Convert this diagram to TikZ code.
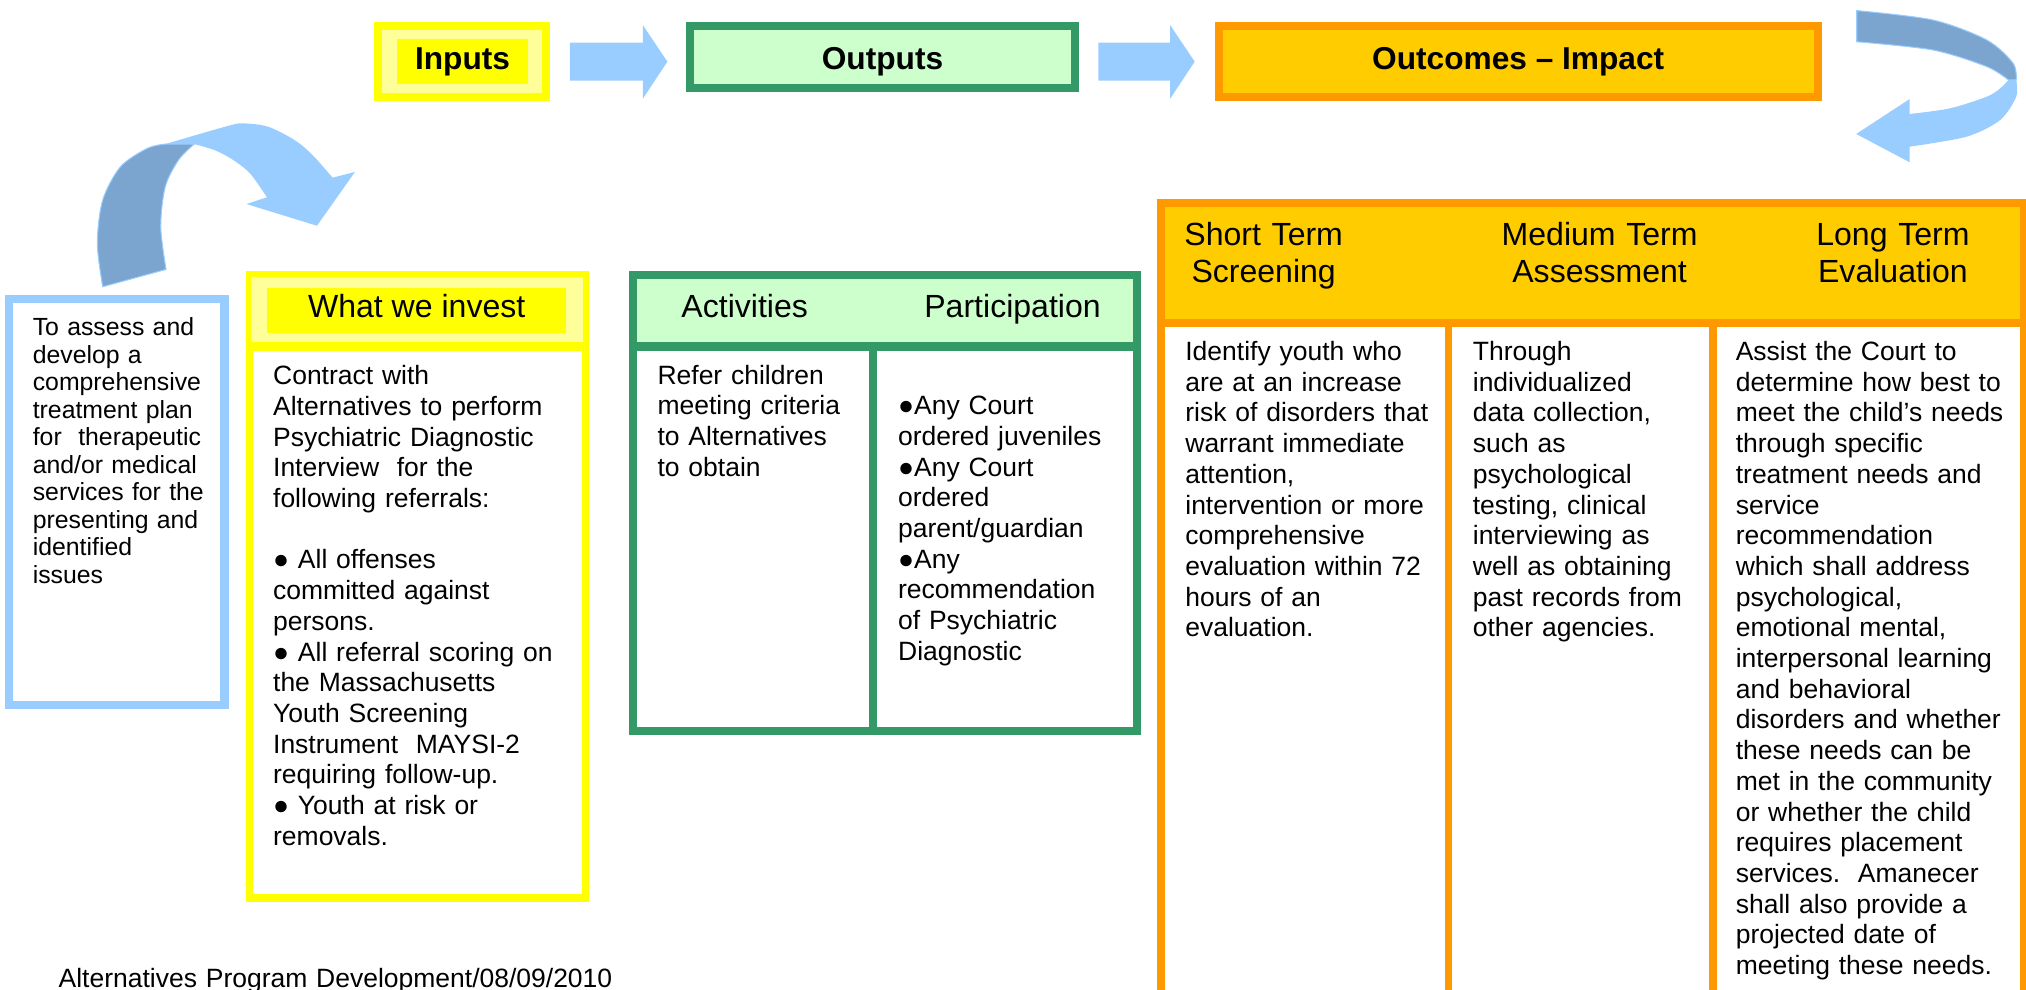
\documentclass[tikz,border=0pt]{standalone}
\usepackage{fontspec}
\setmainfont{Liberation Sans}
\definecolor{yel}{HTML}{FFFF00}
\definecolor{paleyel}{HTML}{FFFF99}
\definecolor{ltgreen}{HTML}{CCFFCC}
\definecolor{dkgreen}{HTML}{339966}
\definecolor{orng}{HTML}{FF9900}
\definecolor{gold}{HTML}{FFCC00}
\definecolor{ltblue}{HTML}{99CCFF}
\definecolor{dkblue}{HTML}{7BA5CF}
\tikzset{
  bodytext/.style={font=\fontsize{10.25}{11.88}\selectfont, anchor=base west, inner sep=0pt, align=left, text width=130pt},
  bluetext/.style={font=\fontsize{9.6}{10.65}\selectfont, anchor=base west, inner sep=0pt, align=left, text width=90pt},
  headtext/.style={font=\fontsize{12.4}{14.25}\selectfont, anchor=base, inner sep=0pt},
  headpair/.style={font=\fontsize{12.4}{14.25}\selectfont, anchor=base, inner sep=0pt, align=center, text width=90pt},
  toplabel/.style={font=\bfseries\fontsize{12.25}{14}\selectfont, anchor=base, inner sep=0pt},
  blockarrow/.style={fill=ltblue},
}
\begin{document}
\begin{tikzpicture}[x=0.5pt,y=-0.5pt]
\useasboundingbox (0,0) rectangle (1568,766);

% ---------- top row ----------
\draw[yel, line width=3.1pt, fill=paleyel] (292.7,20.1) rectangle (422.6,74.9);
\fill[yel] (307.5,30.2) rectangle (408.7,64.8);
\node[toplabel] (inputs) at (358,53.7) {Inputs};

\fill[blockarrow] (441,33) -- (497.5,33) -- (497.5,19.4) -- (516.5,47.7) -- (497.5,76.4) -- (497.5,62.4) -- (441,62.4) -- cycle;

\draw[dkgreen, line width=3pt, fill=ltgreen] (534,20) rectangle (832,68);
\node[toplabel] (outputs) at (683,53.7) {Outputs};

\fill[blockarrow] (850,33) -- (905.6,33) -- (905.6,19.4) -- (924.6,47.7) -- (905.6,76.4) -- (905.6,62.4) -- (850,62.4) -- cycle;

\draw[orng, line width=3.2pt, fill=gold] (943.2,20) rectangle (1406.8,75);
\node[toplabel] (outcomes) at (1175,53.7) {Outcomes – Impact};

% ---------- curved arrow, top right ----------
\fill[dkblue, draw=ltblue, line width=0.4pt] (1437,8.2) -- plot[smooth] coordinates {(1437,8.2) (1496,15.5) (1537.7,31) (1558,49) (1560.4,61.9)} -- (1554.4,61.9) -- plot[smooth] coordinates {(1554.4,61.9) (1537.7,51.6) (1496,38.7) (1437,32.3)} -- cycle;
\fill[ltblue] (1554.4,61.9) -- (1560.4,61.9) -- plot[smooth] coordinates {(1560.4,61.9) (1560.4,74.8) (1548,92.9) (1522,105.8) (1478,113.5)} -- (1478,125.6) -- (1436.6,103.7) -- (1478,76.6) -- (1478,88.2) -- plot[smooth] coordinates {(1478,88.2) (1509,83.9) (1537.7,74.8) (1548,68.4) (1554.4,61.9)} -- cycle;

% ---------- curved arrow, top left ----------
\fill[dkblue, draw=ltblue, line width=0.4pt] (79.5,221.9) -- plot[smooth] coordinates {(79.5,221.9) (75.3,188.3) (79.5,154.8) (93.3,129) (114,114.8) (127.9,111.5)} -- (150.3,111.5) -- plot[smooth] coordinates {(150.3,111.5) (138.2,123.8) (127.9,144.5) (124.4,175.4) (128.5,208.5)} -- cycle;
\fill[ltblue] (127.9,111.5) -- plot[smooth] coordinates {(127.9,111.5) (176.2,97.5) (188.3,95.5) (207.3,98) (228,108.4) (241.9,120) (257.4,137.5)} -- (274.7,133.1) -- (245.3,174.7) -- (190.7,157.9) -- (206.6,152.7) -- plot[smooth] coordinates {(206.6,152.7) (193.5,134.2) (179.7,123.3) (165.9,116.1) (150.3,111.5)} -- cycle;

% ---------- blue box ----------
\draw[ltblue, line width=3.2pt, fill=white] (7.2,231.2) rectangle (173.8,545.8);
\node[bluetext] (goal) at (25,259.7) {To assess and\\
develop a\\
comprehensive\\
treatment plan\\
for\ \ therapeutic\\
and/or medical\\
services for the\\
presenting and\\
identified\\
issues};

% ---------- what we invest ----------
\draw[yel, line width=2.9pt] (193,213) rectangle (453,695);
\fill[paleyel] (194.5,214.5) rectangle (451.5,265);
\draw[yel, line width=3.2pt] (194.5,268.2) -- (451.5,268.2);
\fill[yel] (207,223) rectangle (438,258);
\node[headtext] (invest) at (322.5,246) {What we invest};
\node[bodytext] (investtext) at (211,297.8) {Contract with\\
Alternatives to perform\\
Psychiatric Diagnostic\\
Interview\ \ for the\\
following referrals:\\
\mbox{}\\
● All offenses\\
committed against\\
persons.\\
● All referral scoring on\\
the Massachusetts\\
Youth Screening\\
Instrument\ \ MAYSI-2\\
requiring follow-up.\\
● Youth at risk or\\
removals.};

% ---------- activities / participation ----------
\fill[ltgreen] (491,214.5) rectangle (878.5,265);
\draw[dkgreen, line width=3.1pt] (489.6,213.1) rectangle (879.9,565.9);
\draw[dkgreen, line width=3.2pt] (491,268.2) -- (878.5,268.2);
\draw[dkgreen, line width=3.1pt] (675.7,268.2) -- (675.7,565.9);
\node[headtext, anchor=base west] (activities) at (527,245.6) {Activities};
\node[headtext, anchor=base west] (participation) at (715,245.6) {Participation};
\node[bodytext] (activitytext) at (508.5,297.3) {Refer children\\
meeting criteria\\
to Alternatives\\
to obtain};
\node[bodytext] (participationtext) at (694.7,321) {●Any Court\\
ordered juveniles\\
●Any Court\\
ordered\\
parent/guardian\\
●Any\\
recommendation\\
of Psychiatric\\
Diagnostic};

% ---------- outcomes table ----------
\fill[gold] (900,158.5) rectangle (1565,247);
\draw[orng, line width=3pt] (898.5,157) rectangle (1566.5,820);
\draw[orng, line width=3pt] (898.5,250) -- (1566.5,250);
\draw[orng, line width=3pt] (1121,250) -- (1121,820);
\draw[orng, line width=3pt] (1326,250) -- (1326,820);
\node[headpair] (shortterm) at (978,190) {Short Term\\Screening};
\node[headpair] (mediumterm) at (1238,190) {Medium Term\\Assessment};
\node[headpair] (longterm) at (1465,190) {Long Term\\Evaluation};
\node[bodytext] (shorttext) at (917,279) {Identify youth who\\
are at an increase\\
risk of disorders that\\
warrant immediate\\
attention,\\
intervention or more\\
comprehensive\\
evaluation within 72\\
hours of an\\
evaluation.};
\node[bodytext] (mediumtext) at (1139.5,279) {Through\\
individualized\\
data collection,\\
such as\\
psychological\\
testing, clinical\\
interviewing as\\
well as obtaining\\
past records from\\
other agencies.};
\node[bodytext] (longtext) at (1343,279) {Assist the Court to\\
determine how best to\\
meet the child’s needs\\
through specific\\
treatment needs and\\
service\\
recommendation\\
which shall address\\
psychological,\\
emotional mental,\\
interpersonal learning\\
and behavioral\\
disorders and whether\\
these needs can be\\
met in the community\\
or whether the child\\
requires placement\\
services.\ \ Amanecer\\
shall also provide a\\
projected date of\\
meeting these needs.};

% ---------- footer ----------
\node[bodytext, text width=260pt] (footer) at (45,764) {Alternatives Program Development/08/09/2010};
\end{tikzpicture}
\end{document}
